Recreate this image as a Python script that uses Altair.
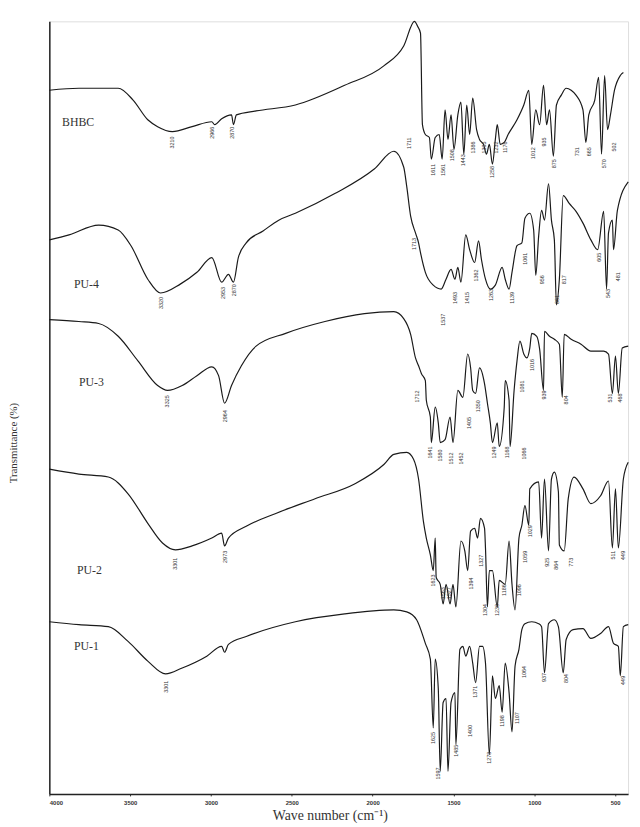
import altair as alt
import pandas as pd

# (wavenumber cm-1, transmittance in arbitrary offset units)
bhbc = [(4000,715),(3817,717),(3574,717),(3482,705),(3391,685),(3330,678),(3239,673),(3117,678),(2995,683),(2977,680),(2934,686),(2873,690),(2861,680),(2843,690),(2721,694),(2478,700),(2173,720),(1929,740),(1808,760),(1741,785),(1722,780),(1704,773),(1692,680),(1674,670),(1649,667),(1637,645),(1613,667),(1588,670),(1570,645),(1552,695),(1534,665),(1515,690),(1497,655),(1473,690),(1454,703),(1436,650),(1418,700),(1400,670),(1381,707),(1357,675),(1339,665),(1314,660),(1296,650),(1278,660),(1259,640),(1241,665),(1229,680),(1211,660),(1186,662),(1162,670),(1107,685),(1065,700),(1034,715),(1016,660),(991,695),(967,680),(943,720),(924,680),(906,695),(882,648),(863,700),(833,710),(803,717),(772,715),(742,710),(699,695),(681,662),(663,690),(626,705),(602,728),(584,650),(565,730),(547,675),(529,690),(504,715),(468,730),(449,733)]

pu4 = [(4000,563),(3878,568),(3695,578),(3574,573),(3495,557),(3391,523),(3312,509),(3190,518),(3087,530),(2995,545),(2934,520),(2892,528),(2861,520),(2831,545),(2782,560),(2678,572),(2581,583),(2478,590),(2234,610),(1990,635),(1869,653),(1808,637),(1789,617),(1765,587),(1735,570),(1716,560),(1704,550),(1674,530),(1625,517),(1576,513),(1546,523),(1515,533),(1491,523),(1473,535),(1454,520),(1424,568),(1400,553),(1369,540),(1345,562),(1327,543),(1302,523),(1272,513),(1241,517),(1199,535),(1180,523),(1156,513),(1138,530),(1107,557),(1077,560),(1058,585),(1028,590),(1004,573),(991,527),(973,567),(955,593),(937,583),(912,620),(894,583),(876,563),(863,497),(845,523),(821,608),(784,600),(742,592),(699,580),(650,563),(608,553),(571,592),(553,513),(541,570),(517,583),(510,553),(486,593),(419,622)]

pu3 = [(4000,482),(3817,480),(3695,478),(3574,465),(3452,440),(3330,415),(3269,410),(3178,415),(3087,425),(2995,434),(2953,425),(2916,397),(2873,415),(2812,435),(2721,455),(2538,468),(2295,480),(2051,488),(1869,490),(1808,483),(1765,467),(1735,443),(1716,435),(1698,427),(1674,420),(1668,400),(1643,383),(1637,357),(1613,393),(1594,377),(1582,357),(1552,360),(1521,383),(1503,357),(1473,410),(1442,403),(1412,447),(1394,433),(1381,410),(1363,407),(1339,433),(1308,417),(1290,397),(1272,377),(1259,357),(1229,377),(1217,353),(1186,393),(1180,420),(1156,400),(1150,353),(1125,410),(1107,440),(1089,460),(1065,447),(1046,443),(1028,453),(1016,468),(985,465),(967,452),(943,410),(937,470),(906,465),(876,462),(845,457),(827,403),(815,467),(772,462),(711,457),(650,450),(571,450),(541,447),(517,407),(498,445),(480,407),(456,453),(419,455)]

pu2 = [(4000,330),(3817,325),(3635,322),(3513,305),(3391,275),(3300,255),(3220,248),(3117,252),(2995,260),(2934,265),(2916,252),(2892,260),(2782,272),(2599,285),(2356,300),(2112,315),(1929,335),(1869,345),(1789,347),(1747,340),(1716,320),(1686,277),(1668,260),(1643,243),(1625,227),(1613,260),(1607,220),(1582,213),(1564,193),(1546,213),(1521,193),(1503,213),(1485,190),(1454,257),(1430,247),(1412,227),(1394,267),(1369,270),(1351,260),(1333,280),(1308,270),(1302,250),(1290,190),(1278,227),(1259,227),(1229,190),(1217,217),(1180,213),(1156,257),(1138,213),(1119,187),(1095,260),(1077,273),(1058,293),(1034,273),(1028,310),(973,317),(955,260),(937,320),(912,247),(894,320),(876,327),(851,307),(845,253),(815,247),(790,300),(754,322),(699,310),(650,295),(590,303),(541,318),(517,250),(498,310),(480,250),(449,320),(419,337)]

pu1 = [(4000,175),(3817,172),(3635,170),(3513,155),(3391,135),(3281,122),(3178,128),(3026,140),(2934,150),(2916,144),(2892,152),(2782,160),(2478,175),(2173,183),(1869,187),(1789,185),(1728,177),(1674,153),(1643,137),(1625,67),(1613,137),(1594,107),(1582,23),(1564,93),(1546,97),(1534,23),(1515,93),(1491,103),(1485,50),(1460,147),(1442,150),(1424,140),(1400,150),(1381,133),(1363,113),(1339,150),(1320,150),(1302,133),(1278,40),(1259,120),(1241,97),(1217,110),(1199,83),(1180,133),(1156,103),(1138,63),(1119,130),(1095,147),(1077,167),(1058,173),(1016,175),(973,173),(955,170),(937,123),(912,173),(876,177),(851,170),(821,123),(803,157),(760,167),(699,168),(650,158),(590,163),(541,170),(510,153),(480,150),(468,120),(449,170),(419,172)]

series_names = ["BHBC", "PU-4", "PU-3", "PU-2", "PU-1"]
series_data = [bhbc, pu4, pu3, pu2, pu1]

# curve name labels: (name, wavenumber, transmittance)
name_labels = [("BHBC", 3921, 683), ("PU-4", 3848, 518), ("PU-3", 3817, 418), ("PU-2", 3829, 227), ("PU-1", 3848, 150)]

# peak annotations: (wavenumber position, transmittance of label top, text)
peak_labels = [
    (3239,668,"3210"),(2995,678,"2966"),(2867,678,"2870"),(1777,667,"1711"),(1625,640,"1611"),(1564,640,"1561"),(1509,655,"1508"),(1442,650,"1443"),(1381,663,"1386"),(1308,663,"1305"),(1259,638,"1258"),(1235,663,"1232"),(1180,663,"1176"),(1010,657,"1012"),(937,667,"935"),(876,645,"875"),(736,657,"731"),(663,657,"665"),(571,645,"570"),(504,662,"502"),
    (3312,505,"3320"),(2928,515,"2953"),(2855,518,"2870"),(1747,565,"1713"),(1564,488,"1537"),(1491,510,"1493"),(1418,510,"1415"),(1363,533,"1362"),(1266,513,"1263"),(1138,510,"1139"),(1058,550,"1061"),(955,527,"956"),(857,507,"861"),(815,527,"817"),(602,550,"605"),(541,513,"543"),(480,530,"481"),
    (3269,405,"3325"),(2916,390,"2964"),(1728,410,"1712"),(1643,353,"1641"),(1582,350,"1580"),(1515,347,"1512"),(1454,347,"1452"),(1406,383,"1405"),(1351,400,"1350"),(1247,353,"1249"),(1168,353,"1168"),(1065,352,"1066"),(1077,420,"1081"),(1016,442,"1016"),(937,410,"939"),(803,405,"804"),(529,407,"531"),(468,407,"468"),
    (3220,240,"3301"),(2916,247,"2973"),(1625,223,"1623"),(1564,210,"1563"),(1527,210,"1527"),(1394,220,"1394"),(1327,243,"1327"),(1302,193,"1304"),(1229,193,"1230"),(1186,213,"1186"),(1095,213,"1096"),(1058,247,"1059"),(1028,273,"1029"),(924,240,"925"),(863,237,"864"),(772,240,"773"),(510,247,"511"),(449,247,"449"),
    (3281,115,"3301"),(1625,63,"1625"),(1594,27,"1597"),(1485,50,"1485"),(1400,70,"1400"),(1369,110,"1371"),(1278,43,"1278"),(1199,80,"1198"),(1107,83,"1107"),(1065,130,"1064"),(937,123,"937"),(803,122,"804"),(449,120,"449"),
]

x_ticks = [4000, 3500, 3000, 2500, 2000, 1500, 1000, 500]

rows = []
for name, pts in zip(series_names, series_data):
    for wn, t in pts:
        rows.append({"series": name, "wn": wn, "T": t})
df = pd.DataFrame(rows)
names_df = pd.DataFrame(name_labels, columns=["name", "wn", "T"])
peaks_df = pd.DataFrame(peak_labels, columns=["wn", "T", "text"])

xscale = alt.Scale(domain=[4000, 420], nice=False, zero=False)
yscale = alt.Scale(domain=[0, 785], nice=False, zero=False)

lines = alt.Chart(df).mark_line(color="#1a1a1a", strokeWidth=1.2, interpolate="monotone").encode(
    x=alt.X("wn:Q", scale=xscale, sort=None,
            axis=alt.Axis(values=x_ticks, format="d", title="Wave number  (cm\u207b\u00b9)", grid=False,
                          labelFontSize=6, labelFontWeight="bold", labelColor="#333",
                          tickSize=2, tickColor="#333", domainColor="#222", domainWidth=1.5,
                          labelPadding=4, titleFont="Liberation Serif", titleFontSize=14,
                          titleFontWeight="normal", titleColor="#333", titlePadding=3, titleX=285)),
    y=alt.Y("T:Q", scale=yscale,
            axis=alt.Axis(title="Transmittance (%)", labels=False, ticks=False, grid=False,
                          domainColor="#222", domainWidth=1.5, titleFont="Liberation Serif",
                          titleFontSize=11, titleFontWeight="normal", titleColor="#333",
                          titleX=-31, titleY=428, titleAngle=270)),
    detail="series:N",
    order=alt.Order("wn:Q", sort="descending"),
)

names = alt.Chart(names_df).mark_text(font="Liberation Serif", fontSize=12, align="left",
                                      baseline="middle", color="#333").encode(
    x=alt.X("wn:Q", scale=xscale), y=alt.Y("T:Q", scale=yscale), text="name:N")

peaks = alt.Chart(peaks_df).mark_text(font="Liberation Sans", fontSize=5.5, angle=270, align="right",
                                      baseline="middle", color="#333").encode(
    x=alt.X("wn:Q", scale=xscale), y=alt.Y("T:Q", scale=yscale), text="text:N")

chart = alt.layer(lines, names, peaks).properties(
    width=588, height=785,
    autosize=alt.AutoSizeParams(type="none"),
    padding={"left": 42, "top": 7, "right": 4, "bottom": 26},
).configure_view(stroke=None).configure(background="white")

chart.save("out.html", embed_options={"renderer": "svg", "actions": False})
